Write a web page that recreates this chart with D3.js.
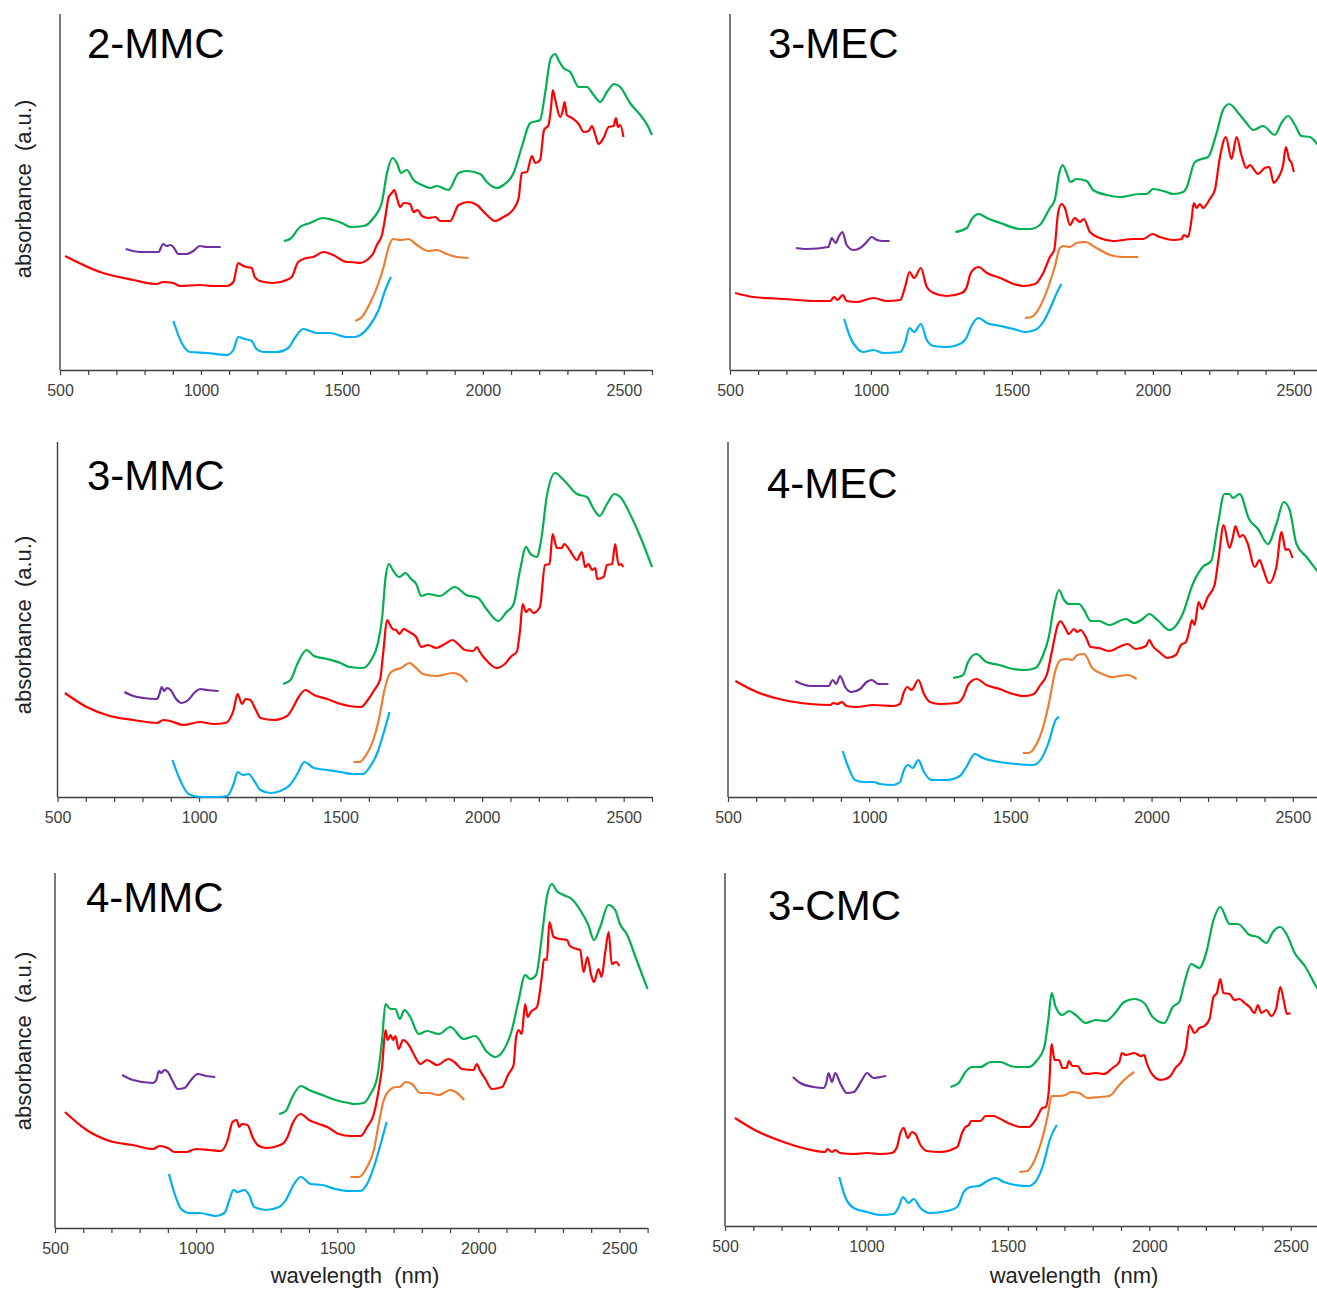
<!DOCTYPE html>
<html>
<head>
<meta charset="utf-8">
<script src="https://cdn.jsdelivr.net/npm/d3@7"></script>
<style>
  body { margin: 0; background: #fff; }
  text { font-family: "Liberation Sans", Arial, sans-serif; }
</style>
</head>
<body>
<div id="chart"></div>
<script>
// spectra: [wavelength nm, absorbance a.u.]
const mmc2Purple = [[733,121],[784,118],[849,118],[866,126],[878,124],[892,125],[902,123],[920,116],[949,116],[973,119],[996,124],[1020,123],[1043,123],[1070,123]];
const mmc2Red = [[518,114],[642,98],[760,90],[843,86],[866,88],[902,87],[925,84],[996,85],[1043,84],[1091,84],[1115,88],[1132,107],[1144,105],[1162,103],[1180,102],[1191,93],[1209,89],[1256,87],[1304,90],[1322,93],[1345,108],[1375,112],[1398,113],[1434,118],[1469,115],[1517,108],[1530,108],[1565,107],[1589,110],[1612,117],[1624,125],[1642,135],[1654,153],[1666,173],[1677,177],[1686,180],[1695,172],[1707,163],[1719,167],[1742,166],[1754,158],[1768,160],[1784,154],[1807,152],[1831,153],[1849,149],[1884,149],[1914,165],[1949,168],[1979,165],[2014,155],[2043,149],[2073,153],[2109,161],[2127,172],[2138,197],[2156,198],[2174,214],[2186,207],[2203,210],[2217,240],[2233,245],[2242,263],[2248,280],[2257,270],[2274,253],[2284,260],[2290,268],[2298,255],[2316,252],[2340,246],[2358,238],[2375,239],[2387,244],[2399,235],[2410,226],[2428,232],[2446,243],[2464,244],[2472,252],[2479,243],[2487,245],[2499,233]];
const mmc2Green = [[1294,129],[1316,131],[1351,143],[1387,147],[1434,152],[1469,150],[1500,147],[1530,143],[1577,144],[1612,152],[1642,168],[1660,197],[1680,212],[1695,207],[1710,197],[1730,200],[1754,190],[1784,185],[1813,182],[1837,184],[1878,180],[1914,197],[1943,199],[1991,196],[2014,188],[2050,182],[2073,185],[2109,197],[2138,223],[2168,247],[2203,250],[2221,277],[2241,312],[2257,316],[2268,310],[2286,302],[2310,298],[2340,283],[2369,283],[2393,275],[2416,268],[2440,278],[2466,286],[2487,283],[2522,267],[2564,253],[2587,243],[2600,235]];
const mmc2Orange = [[1547,49],[1571,53],[1600,67],[1630,87],[1648,103],[1666,123],[1681,131],[1707,130],[1736,131],[1766,125],[1807,119],[1837,120],[1872,116],[1908,113],[1949,112]];
const mmc2Blue = [[902,49],[932,27],[961,18],[1020,17],[1091,15],[1115,20],[1132,33],[1156,31],[1180,29],[1197,21],[1221,18],[1268,18],[1310,22],[1333,32],[1363,41],[1387,39],[1410,37],[1457,37],[1517,33],[1546,33],[1565,35],[1600,45],[1630,60],[1654,80],[1674,93]];

const mec3Purple = [[734,122],[772,121],[849,123],[861,132],[875,127],[887,134],[899,138],[914,125],[938,120],[962,122],[985,128],[1003,133],[1021,130],[1044,129],[1066,129]];
const mec3Red = [[518,77],[583,73],[689,71],[808,69],[855,69],[870,73],[881,70],[900,75],[914,69],[950,68],[1009,72],[1056,69],[1104,70],[1121,83],[1137,98],[1153,92],[1177,102],[1198,83],[1222,77],[1269,74],[1322,77],[1340,83],[1354,97],[1382,103],[1411,97],[1459,92],[1506,86],[1541,84],[1582,86],[1611,97],[1635,113],[1650,120],[1664,157],[1676,166],[1688,162],[1706,145],[1723,152],[1741,148],[1755,151],[1777,138],[1812,132],[1859,129],[1930,131],[1966,131],[1999,136],[2025,133],[2072,130],[2102,131],[2110,135],[2125,133],[2137,150],[2145,167],[2155,162],[2167,166],[2178,162],[2202,171],[2220,180],[2238,213],[2259,233],[2279,211],[2297,233],[2314,215],[2332,202],[2344,205],[2373,196],[2397,202],[2413,203],[2429,187],[2439,190],[2462,205],[2472,223],[2483,211],[2492,207],[2500,198]];
const mec3Green = [[1299,138],[1340,142],[1358,151],[1382,156],[1411,152],[1459,147],[1530,141],[1564,141],[1599,145],[1635,162],[1652,170],[1668,197],[1680,205],[1694,197],[1708,188],[1729,191],[1765,189],[1788,180],[1836,175],[1883,173],[1954,176],[1978,176],[2001,181],[2048,178],[2072,176],[2108,178],[2119,182],[2149,208],[2173,211],[2196,213],[2226,237],[2249,260],[2271,266],[2303,257],[2332,247],[2356,240],[2391,244],[2433,235],[2456,247],[2480,254],[2504,245],[2527,234],[2557,233],[2580,227],[2600,220]];
const mec3Orange = [[1546,52],[1570,53],[1599,63],[1629,83],[1652,103],[1670,122],[1684,124],[1706,123],[1729,127],[1759,128],[1800,122],[1848,115],[1895,113],[1948,113]];
const mec3Blue = [[905,51],[926,33],[950,22],[973,18],[1009,20],[1044,17],[1104,18],[1121,27],[1137,42],[1153,38],[1177,46],[1198,30],[1222,24],[1269,23],[1322,27],[1340,33],[1358,45],[1382,52],[1411,47],[1459,44],[1506,41],[1546,38],[1582,40],[1611,48],[1641,65],[1664,80],[1676,86]];

const mmc3Purple = [[736,105],[768,101],[803,99],[851,98],[860,103],[868,110],[877,106],[886,109],[900,107],[919,98],[939,94],[962,97],[986,105],[1004,108],[1028,107],[1069,106]];
const mmc3Red = [[526,104],[603,90],[685,81],[768,77],[851,74],[874,77],[898,76],[945,72],[1004,75],[1051,73],[1093,74],[1122,87],[1136,103],[1152,93],[1164,98],[1181,97],[1199,88],[1217,79],[1264,77],[1311,81],[1329,88],[1352,100],[1376,107],[1406,102],[1453,98],[1500,93],[1531,91],[1572,90],[1596,97],[1619,107],[1640,118],[1649,140],[1665,177],[1673,173],[1684,168],[1696,167],[1708,163],[1722,168],[1743,165],[1767,160],[1785,150],[1809,152],[1838,149],[1868,153],[1895,157],[1915,153],[1939,147],[1968,146],[1982,150],[1992,145],[2021,135],[2051,129],[2080,133],[2104,141],[2122,145],[2134,167],[2143,193],[2155,185],[2167,188],[2181,184],[2204,190],[2222,232],[2238,233],[2249,263],[2264,249],[2281,249],[2290,253],[2311,246],[2335,237],[2352,245],[2364,230],[2376,233],[2388,227],[2400,229],[2406,218],[2429,220],[2441,232],[2459,233],[2470,253],[2482,232],[2491,233],[2498,230]];
const mmc3Green = [[1297,113],[1323,117],[1347,133],[1380,147],[1406,141],[1453,138],[1500,134],[1531,130],[1578,129],[1608,137],[1631,153],[1647,180],[1659,220],[1671,233],[1684,227],[1708,220],[1729,224],[1749,218],[1767,213],[1785,201],[1809,203],[1850,201],[1903,210],[1944,202],[1986,199],[2015,188],[2057,176],[2086,185],[2110,192],[2134,227],[2155,250],[2171,243],[2193,240],[2210,260],[2228,300],[2258,324],[2288,317],[2335,303],[2370,300],[2394,288],[2415,281],[2441,293],[2467,303],[2488,300],[2524,282],[2559,260],[2600,230]];
const mmc3Orange = [[1545,35],[1566,35],[1590,42],[1613,55],[1637,80],[1655,107],[1673,123],[1691,127],[1714,129],[1743,134],[1767,129],[1791,123],[1838,121],[1897,124],[1921,122],[1947,115]];
const mmc3Blue = [[906,37],[933,17],[963,3],[1004,0],[1063,0],[1099,1],[1122,13],[1136,25],[1155,22],[1175,23],[1193,17],[1217,7],[1252,4],[1287,6],[1321,12],[1347,23],[1372,35],[1406,29],[1453,27],[1500,25],[1543,23],[1578,23],[1608,32],[1631,45],[1655,67],[1673,85]];

const mec4Purple = [[738,116],[791,111],[856,111],[871,117],[883,113],[897,121],[915,110],[938,105],[968,108],[991,115],[1009,117],[1032,113],[1068,113]];
const mec4Red = [[526,116],[602,105],[697,97],[791,93],[862,92],[873,94],[888,93],[903,95],[920,91],[956,90],[1015,92],[1085,91],[1109,93],[1123,105],[1135,110],[1150,107],[1174,117],[1194,103],[1215,95],[1250,93],[1309,94],[1333,100],[1350,112],[1380,118],[1415,112],[1462,108],[1509,103],[1553,101],[1583,103],[1606,112],[1630,123],[1648,147],[1669,173],[1678,176],[1686,173],[1696,168],[1707,163],[1725,168],[1737,165],[1749,167],[1767,160],[1784,150],[1814,149],[1850,146],[1885,150],[1915,153],[1944,148],[1980,151],[1992,157],[2004,151],[2027,145],[2057,139],[2086,142],[2104,152],[2122,155],[2134,167],[2143,177],[2152,172],[2167,195],[2179,188],[2199,200],[2223,212],[2238,240],[2255,272],[2276,249],[2288,260],[2297,271],[2312,260],[2323,262],[2341,253],[2365,230],[2383,237],[2395,228],[2416,214],[2442,230],[2460,265],[2475,247],[2484,248],[2499,239]];
const mec4Green = [[1297,119],[1333,122],[1350,135],[1380,143],[1415,135],[1462,132],[1509,128],[1553,127],[1589,129],[1613,140],[1636,160],[1654,190],[1672,207],[1690,197],[1707,193],[1743,193],[1761,187],[1784,176],[1814,176],[1850,172],[1909,178],[1938,174],[1968,178],[1992,183],[2021,177],[2063,167],[2110,183],[2146,213],[2181,230],[2211,236],[2235,273],[2258,303],[2276,303],[2288,299],[2312,303],[2345,278],[2377,268],[2412,253],[2442,273],[2468,295],[2489,287],[2513,253],[2549,240],[2584,227],[2600,222]];
const mec4Orange = [[1544,44],[1565,44],[1589,51],[1613,67],[1636,93],[1660,127],[1678,137],[1701,138],[1719,137],[1737,142],[1761,143],[1790,129],[1826,123],[1861,120],[1915,122],[1947,118]];
const mec4Blue = [[906,46],[926,30],[950,17],[979,15],[1015,15],[1038,13],[1085,12],[1109,15],[1123,27],[1138,32],[1154,29],[1174,37],[1194,25],[1221,17],[1274,17],[1321,21],[1344,30],[1374,43],[1403,39],[1462,35],[1521,33],[1580,32],[1609,38],[1636,55],[1660,77],[1672,80]];

const mmc4Purple = [[738,153],[776,148],[847,145],[859,148],[868,157],[876,155],[888,158],[900,156],[915,148],[935,139],[959,140],[982,148],[1006,154],[1035,152],[1068,151]];
const mmc4Red = [[535,116],[612,98],[694,87],[776,83],[847,79],[871,82],[900,80],[924,76],[965,76],[1000,79],[1047,78],[1088,77],[1112,88],[1129,106],[1144,108],[1153,101],[1162,104],[1182,103],[1200,91],[1218,83],[1247,80],[1306,84],[1324,91],[1341,104],[1371,114],[1400,108],[1435,104],[1465,101],[1506,94],[1547,92],[1583,92],[1606,101],[1630,114],[1647,138],[1659,161],[1671,198],[1679,188],[1689,193],[1698,188],[1706,192],[1718,179],[1733,188],[1754,183],[1771,174],[1795,164],[1818,168],[1854,163],[1895,169],[1919,165],[1942,159],[1983,158],[1995,164],[2005,158],[2025,149],[2048,139],[2084,141],[2107,154],[2125,163],[2134,191],[2143,198],[2154,194],[2166,224],[2175,211],[2186,216],[2208,221],[2225,251],[2233,269],[2243,268],[2252,306],[2267,291],[2290,289],[2314,288],[2325,282],[2349,279],[2361,278],[2373,256],[2387,271],[2399,254],[2410,246],[2426,259],[2437,251],[2449,274],[2462,296],[2473,264],[2488,266],[2500,262]];
const mmc4Green = [[1294,114],[1318,117],[1341,131],[1371,142],[1400,138],[1447,133],[1494,128],[1541,125],[1559,124],[1594,125],[1618,134],[1642,151],[1659,188],[1671,224],[1689,219],[1706,219],[1722,209],[1738,218],[1759,211],[1789,194],[1818,197],[1860,194],[1901,201],[1948,189],[1989,192],[2031,176],[2060,171],[2090,178],[2119,198],[2143,228],[2166,253],[2184,249],[2205,253],[2225,291],[2243,331],[2261,344],[2278,337],[2302,333],[2331,329],[2361,318],[2390,303],[2410,288],[2432,301],[2461,323],[2485,318],[2502,304],[2526,294],[2561,268],[2600,239]];
const mmc4Orange = [[1547,51],[1577,51],[1606,61],[1630,78],[1647,104],[1665,128],[1686,138],[1706,141],[1722,141],[1742,146],[1765,144],[1795,135],[1824,135],[1860,133],[1901,138],[1925,135],[1950,128]];
const mmc4Blue = [[904,54],[924,34],[947,19],[976,15],[1012,15],[1071,12],[1100,15],[1118,28],[1132,38],[1147,36],[1171,38],[1188,33],[1206,21],[1247,18],[1294,21],[1318,28],[1347,44],[1371,51],[1406,44],[1447,43],[1494,39],[1541,37],[1583,37],[1606,44],[1630,61],[1653,83],[1675,106]];

const cmc3Purple = [[740,149],[766,143],[813,139],[848,138],[858,143],[866,153],[878,144],[890,153],[907,143],[931,133],[955,134],[984,146],[1002,153],[1025,148],[1049,149],[1070,150]];
const cmc3Red = [[535,108],[612,95],[707,84],[789,77],[854,74],[862,77],[878,74],[890,76],[907,73],[955,72],[1002,73],[1049,72],[1090,73],[1108,79],[1120,93],[1132,98],[1146,88],[1161,94],[1173,92],[1191,81],[1214,75],[1261,74],[1321,79],[1338,93],[1350,99],[1362,101],[1370,105],[1403,105],[1421,110],[1450,110],[1474,107],[1509,102],[1545,99],[1574,99],[1598,106],[1622,118],[1634,119],[1645,136],[1655,182],[1665,166],[1681,166],[1693,158],[1707,158],[1716,165],[1728,160],[1746,160],[1764,153],[1781,152],[1811,153],[1840,152],[1870,158],[1894,164],[1903,173],[1917,171],[1947,173],[1970,170],[1982,171],[1991,163],[2012,151],[2041,146],[2071,149],[2095,159],[2112,164],[2130,178],[2142,201],[2160,193],[2177,198],[2195,200],[2213,207],[2227,229],[2239,233],[2251,247],[2262,233],[2284,232],[2301,226],[2319,227],[2337,223],[2355,219],[2372,213],[2384,221],[2396,213],[2414,216],[2431,210],[2449,218],[2463,239],[2475,226],[2487,212],[2499,213]];
const cmc3Green = [[1297,139],[1326,143],[1350,154],[1374,159],[1403,159],[1439,164],[1474,164],[1509,160],[1539,159],[1574,159],[1604,166],[1628,178],[1643,206],[1655,233],[1669,219],[1693,211],[1716,215],[1740,211],[1775,203],[1811,206],[1846,205],[1882,214],[1911,224],[1947,227],[1982,223],[2012,209],[2053,203],[2083,219],[2106,224],[2124,243],[2148,262],[2177,258],[2201,273],[2227,306],[2251,319],[2284,302],[2313,302],[2355,291],[2384,289],[2414,283],[2437,294],[2463,299],[2485,292],[2514,273],[2550,260],[2591,239],[2600,235]];
const cmc3Orange = [[1541,54],[1568,55],[1598,68],[1622,88],[1640,109],[1655,130],[1681,130],[1704,131],[1722,134],[1752,133],[1781,128],[1823,129],[1858,130],[1894,141],[1923,149],[1947,154]];
const cmc3Blue = [[904,49],[925,29],[955,18],[1002,14],[1049,11],[1096,12],[1114,19],[1129,29],[1149,23],[1167,27],[1191,18],[1226,13],[1285,15],[1321,19],[1344,34],[1368,39],[1397,40],[1427,45],[1456,48],[1486,44],[1527,41],[1574,40],[1604,47],[1628,64],[1648,86],[1673,101]];

const titles = ["2-MMC", "3-MEC", "3-MMC", "4-MEC", "4-MMC", "3-CMC"];
const panelSeries = [
  [mmc2Purple, mmc2Red, mmc2Green, mmc2Orange, mmc2Blue],
  [mec3Purple, mec3Red, mec3Green, mec3Orange, mec3Blue],
  [mmc3Purple, mmc3Red, mmc3Green, mmc3Orange, mmc3Blue],
  [mec4Purple, mec4Red, mec4Green, mec4Orange, mec4Blue],
  [mmc4Purple, mmc4Red, mmc4Green, mmc4Orange, mmc4Blue],
  [cmc3Purple, cmc3Red, cmc3Green, cmc3Orange, cmc3Blue],
];
const tickValues = d3.range(500, 2601, 100);
const colors = ["#7030A0", "#FF0000", "#00B050", "#ED7D31", "#00B0F0"];

// panel placement on the page
const layout = [
  { x0: 60, x1: 652, top: 14, bottom: 370, tx: 87, ty: 58 },
  { x0: 730, x1: 1322, top: 14, bottom: 370, tx: 768, ty: 58 },
  { x0: 57.5, x1: 652, top: 442, bottom: 797, tx: 87, ty: 490 },
  { x0: 728, x1: 1321, top: 442, bottom: 797, tx: 767, ty: 498 },
  { x0: 55, x1: 647.6, top: 873, bottom: 1228, tx: 86, ty: 912 },
  { x0: 725, x1: 1319, top: 873, bottom: 1226, tx: 768, ty: 920 },
];
const yLabelCenters = [189, 625, 1041];

const svg = d3
  .select("#chart")
  .append("svg")
  .attr("width", 1317)
  .attr("height", 1293);

layout.forEach((p, i) => {
  const x = d3.scaleLinear().domain([500, 2600]).range([p.x0, p.x1]);
  const y = d3.scaleLinear().domain([0, 356]).range([p.bottom, p.bottom - 356]);
  const g = svg.append("g");

  const axis = g
    .append("g")
    .attr("transform", `translate(0,${p.bottom})`)
    .call(
      d3
        .axisBottom(x)
        .tickValues(tickValues)
        .tickSize(5)
        .tickSizeOuter(0)
        .tickPadding(10)
        .tickFormat((d) => (d % 500 === 0 ? d : ""))
    );
  axis.select(".domain").attr("stroke", "#404040").attr("stroke-width", 1.4);
  axis.selectAll(".tick line").attr("stroke", "#404040").attr("stroke-width", 1.2);
  axis
    .selectAll(".tick text")
    .attr("fill", "#404040")
    .style("font-size", "16px")
    .style("font-family", '"Liberation Sans", Arial, sans-serif');

  g.append("line")
    .attr("x1", p.x0)
    .attr("x2", p.x0)
    .attr("y1", p.top)
    .attr("y2", p.bottom)
    .attr("stroke", "#404040")
    .attr("stroke-width", 1.4);

  const line = d3
    .line()
    .x((d) => x(d[0]))
    .y((d) => y(d[1]))
    .curve(d3.curveMonotoneX);

  g.selectAll("path.spec")
    .data(panelSeries[i])
    .enter()
    .append("path")
    .attr("class", "spec")
    .attr("d", line)
    .attr("fill", "none")
    .attr("stroke", (d, k) => colors[k])
    .attr("stroke-width", 2.2)
    .attr("stroke-linejoin", "round");

  g.append("text")
    .attr("x", p.tx)
    .attr("y", p.ty)
    .style("font-size", "42px")
    .attr("fill", "#000")
    .text(titles[i]);

  if (i % 2 === 0) {
    const cy = yLabelCenters[i / 2];
    g.append("text")
      .attr("transform", `translate(31,${cy}) rotate(-90)`)
      .attr("text-anchor", "middle")
      .style("font-size", "22px")
      .style("white-space", "pre")
      .attr("fill", "#222")
      .text("absorbance  (a.u.)");
  }
});

[355, 1074].forEach((cx) => {
  svg
    .append("text")
    .attr("x", cx)
    .attr("y", 1283)
    .attr("text-anchor", "middle")
    .style("font-size", "22px")
    .style("white-space", "pre")
    .attr("fill", "#222")
    .text("wavelength  (nm)");
});
</script>
</body>
</html>
